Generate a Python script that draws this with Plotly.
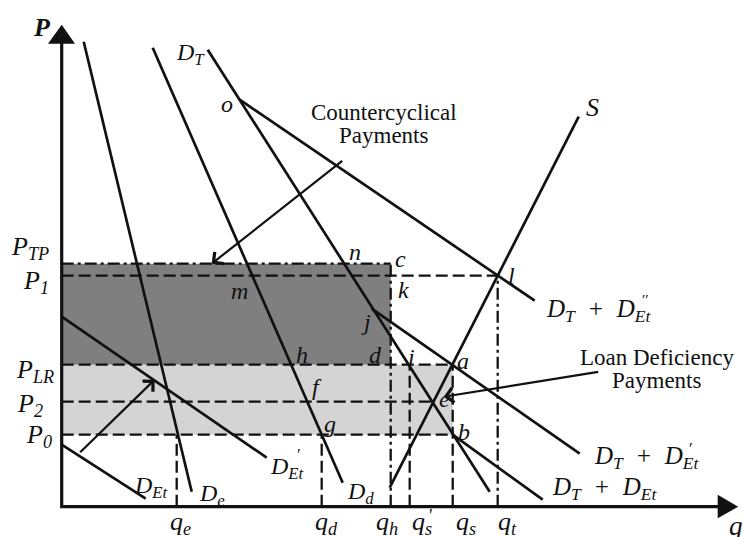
import plotly.graph_objects as go

# ---------------- data (q = quantity, P = price) ----------------
# price levels
P_TP, P_1, P_LR, P_2, P_0 = 24.3, 23.1, 14.2, 10.5, 7.2
price_labels = ["P<sub>TP</sub>", "P<sub>1</sub>", "P<sub>LR</sub>", "P<sub>2</sub>", "P<sub>0</sub>"]
price_values = [P_TP, P_1, P_LR, P_2, P_0]

# quantity levels
q_e, q_d, q_h, q_s1, q_s, q_t = 11.5, 26.0, 32.9, 34.8, 39.1, 43.6
q_pt_e = 37.2  # quantity at point e
qty_labels = ["q<sub>e</sub>", "q<sub>d</sub>", "q<sub>h</sub>", "q<sub>s</sub>", "q<sub>s</sub>", "q<sub>t</sub>"]
qty_values = [q_e, q_d, q_h, q_s1, q_s, q_t]

# curves: endpoints (q, P)
S_q, S_P = [32.8, 51.7], [1.9, 39.0]
De_q, De_P = [2.2, 13.0], [46.5, 1.5]
Dd_q, Dd_P = [9.1, 28.1], [45.9, 2.4]
DT_q, DT_P = [14.6, 42.8], [45.7, 1.5]
DT_DEt_q, DT_DEt_P = [q_s, 48.1], [P_0, 0.7]
DT_DEt1_q, DT_DEt1_P = [31.0, 51.8], [19.8, 5.3]
DT_DEt2_q, DT_DEt2_P = [17.8, 47.3], [40.7, 20.6]
DEt1_q, DEt1_P = [0.0, 20.5], [19.0, 4.9]
DEt_q, DEt_P = [0.0, 8.4], [6.2, 0.8]

# arrows (tail -> head)
shift_arrow = [(1.7, 5.3), (9.3, 12.7)]
cc_arrow = [(28.2, 34.7), (15.0, 24.3)]
ldp_arrow = [(53.8, 13.5), (38.2, 11.0)]

# ---------------- styling ----------------
FONT = "Liberation Serif, Times New Roman, serif"
BLACK = "#111111"
DARK = "#7f7f7f"
LIGHT = "#d4d4d4"
LW = 2.7
DASH = "12px,5px"
DASHDOT = "12px,4px,3px,4px"
SP = "\u2002"

fig = go.Figure()

# shaded regions
fig.add_shape(type="rect", x0=0, x1=q_h, y0=P_LR, y1=P_TP, fillcolor=DARK, line_width=0, layer="below")
fig.add_shape(type="rect", x0=0, x1=q_s, y0=P_0, y1=P_LR, fillcolor=LIGHT, line_width=0, layer="below")


def seg(xs, ys, dash="solid", width=LW):
    fig.add_trace(go.Scatter(x=xs, y=ys, mode="lines", hoverinfo="skip",
                             line=dict(color=BLACK, width=width, dash=dash)))


# horizontal guide lines
seg([0, q_h], [P_TP, P_TP], DASHDOT, 2.3)
seg([0, q_t], [P_1, P_1], DASH, 2.3)
seg([0, q_s], [P_LR, P_LR], DASH, 2.3)
seg([0, q_pt_e], [P_2, P_2], DASH, 2.3)
seg([0, q_s], [P_0, P_0], DASH, 2.3)

# vertical guide lines
seg([q_e, q_e], [0, P_0], DASH, 2.3)
seg([q_d, q_d], [0, P_0], DASH, 2.3)
seg([q_h, q_h], [0, P_TP], DASHDOT, 2.3)
seg([q_s1, q_s1], [0, P_LR], DASH, 2.3)
seg([q_s, q_s], [0, P_LR], DASH, 2.3)
seg([q_t, q_t], [0, P_1], DASHDOT, 2.3)

# curves
for xs, ys in [(S_q, S_P), (De_q, De_P), (Dd_q, Dd_P), (DT_q, DT_P),
               (DT_DEt_q, DT_DEt_P), (DT_DEt1_q, DT_DEt1_P), (DT_DEt2_q, DT_DEt2_P),
               (DEt1_q, DEt1_P), (DEt_q, DEt_P)]:
    seg(xs, ys)

# axes
seg([0, 0, 65.8], [46.4, 0, 0], "solid", 3.2)
fig.add_shape(type="path", path="M -1.37 46.3 L 1.33 46.3 L 0 48.2 Z",
              fillcolor=BLACK, line_width=0)
fig.add_shape(type="path", path="M 65.6 1.2 L 65.6 -1.15 L 67.65 0 Z",
              fillcolor=BLACK, line_width=0)

ann = []


def arrow(tail, head):
    ann.append(dict(x=head[0], y=head[1], ax=tail[0], ay=tail[1], xref="x", yref="y",
                    axref="x", ayref="y", text="", showarrow=True, arrowhead=4,
                    arrowsize=1.3, arrowwidth=2.2, arrowcolor=BLACK, standoff=0))


arrow(*shift_arrow)
arrow(*cc_arrow)
arrow(*ldp_arrow)


def lab(x, y, text, size=24, xanchor="center", yanchor="middle", italic=True, bold=False):
    t = f"<i>{text}</i>" if italic else text
    if bold:
        t = f"<b>{t}</b>"
    ann.append(dict(x=x, y=y, xref="x", yref="y", text=t, showarrow=False,
                    xanchor=xanchor, yanchor=yanchor,
                    font=dict(family=FONT, size=size, color=BLACK)))


# axis titles
lab(-2.0, 47.9, "P", 26, bold=True)
lab(67.4, -1.9, "q", 27)

# price labels
price_pos = [(-1.1, 25.9), (-1.1, 22.5), (-0.6, 13.6), (-1.7, 10.2), (-0.8, 7.1)]
for (x, y), t in zip(price_pos, price_labels):
    lab(x, y, t, 26, xanchor="right")

# quantity labels (left edge offset from each guide line)
qty_offsets = [-0.9, -0.9, -1.7, 0.0, 0.1, -0.2]
for v, off, t in zip(qty_values, qty_offsets, qty_labels):
    lab(v + off, -1.6, t, 26, xanchor="left")
lab(q_s1 + 2.1, -0.9, "′", 18, italic=False)

# point labels
points = [(16.5, 40.3, "o"), (29.3, 25.5, "n"), (33.9, 24.8, "c"), (34.2, 21.7, "k"),
          (30.4, 18.5, "j"), (31.4, 15.2, "d"), (35.0, 15.0, "i"), (40.1, 14.6, "a"),
          (17.8, 21.6, "m"), (24.0, 15.2, "h"), (25.5, 12.0, "f"), (26.8, 8.3, "g"),
          (38.3, 10.8, "e"), (40.2, 7.5, "b"), (45.0, 23.1, "l")]
for x, y, t in points:
    lab(x, y, t, 24)
lab(53.1, 39.9, "S", 26)
lab(12.9, 45.3, "D<sub>T</sub>", 24)

# curve labels
lab(7.0, 2.0, "D<sub>Et</sub>", 24, xanchor="left")
lab(13.5, 1.2, "D<sub>e</sub>", 24, xanchor="left")
lab(20.6, 3.9, "D<sub>Et</sub>", 24, xanchor="left")
lab(23.7, 5.2, "′", 17, italic=False)
lab(28.3, 1.4, "D<sub>d</sub>", 24, xanchor="left")
lab(48.2, 19.6, f"D<sub>T</sub>{SP}+{SP}D<sub>Et</sub>", 25, xanchor="left")
lab(58.4, 20.7, "′′", 15, italic=False)
lab(53.0, 4.9, f"D<sub>T</sub>{SP}+{SP}D<sub>Et</sub>", 25, xanchor="left")
lab(62.9, 5.8, "′", 17, italic=False)
lab(48.8, 1.8, f"D<sub>T</sub>{SP}+{SP}D<sub>Et</sub>", 25, xanchor="left")

# text blocks
lab(32.2, 39.4, "Countercyclical", 23, italic=False)
lab(32.2, 37.1, "Payments", 23, italic=False)
lab(59.5, 14.9, "Loan Deficiency", 23, italic=False)
lab(59.5, 12.6, "Payments", 23, italic=False)

fig.update_layout(
    width=743, height=537, margin=dict(l=0, r=0, t=0, b=0),
    plot_bgcolor="white", paper_bgcolor="white", showlegend=False,
    xaxis=dict(range=[-6.17, 68.13], visible=False, fixedrange=True),
    yaxis=dict(range=[-3.03, 50.67], visible=False, fixedrange=True),
    annotations=ann,
)

fig.write_html("out.html", config={"displayModeBar": False},
               post_script="document.body.style.margin='0px';")
